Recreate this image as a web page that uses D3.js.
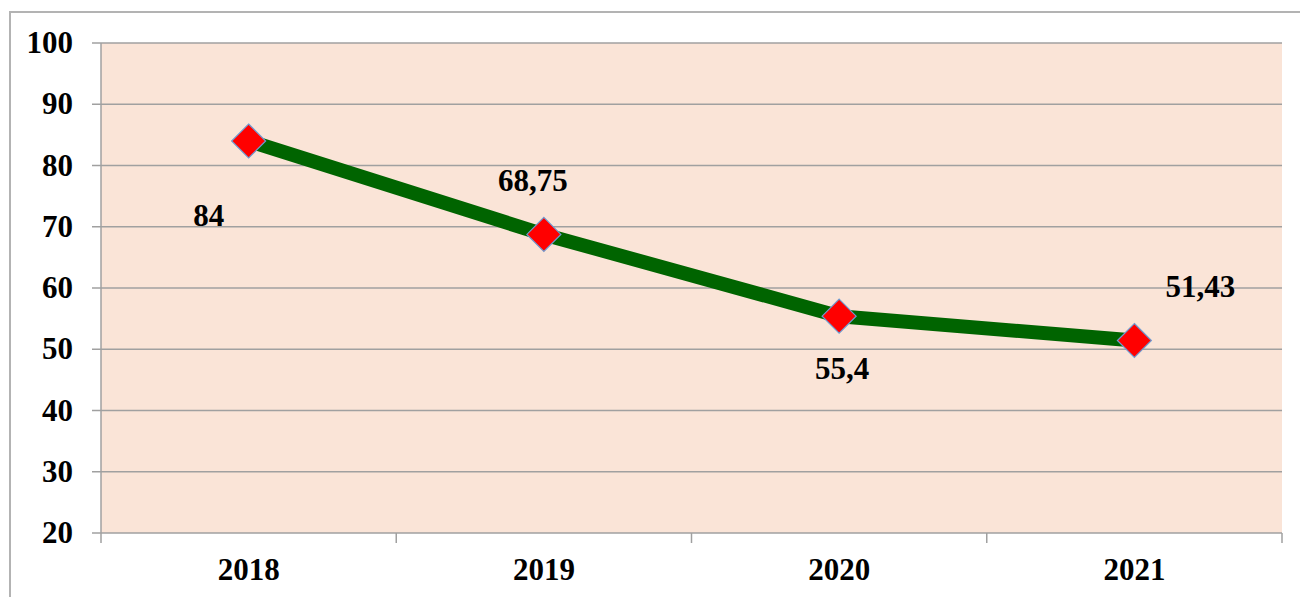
<!DOCTYPE html>
<html>
<head>
<meta charset="utf-8">
<script src="https://cdn.jsdelivr.net/npm/d3@7"></script>
<style>
  body { margin: 0; background: #ffffff; }
  svg { display: block; }
</style>
</head>
<body>
<div id="chart"></div>
<script>
// data
var years = ["2018", "2019", "2020", "2021"];
var values = [84, 68.75, 55.4, 51.43];
var valueLabels = ["84", "68,75", "55,4", "51,43"];
var yTicks = [20, 30, 40, 50, 60, 70, 80, 90, 100];

var w = 1300, h = 597;
var margin = { top: 43, right: 18, bottom: 64, left: 101 };
var width = w - margin.left - margin.right;
var height = h - margin.top - margin.bottom;

var root = d3.select("#chart").append("svg")
    .attr("width", w)
    .attr("height", h);

// outer chart frame
root.append("rect")
    .attr("x", 10).attr("y", 12)
    .attr("width", w + 10).attr("height", h + 10)
    .attr("fill", "none")
    .attr("stroke", "#b3b3b3")
    .attr("stroke-width", 2);

var svg = root.append("g")
    .attr("transform", `translate(${margin.left},${margin.top})`);

// --- Scales ---
var xScale = d3.scaleBand().domain(years).range([0, width]).padding(0);
var yScale = d3.scaleLinear().domain([20, 100]).range([height, 0]);

// plot background
svg.append("rect")
    .attr("width", width).attr("height", height)
    .attr("fill", "#fae4d7");

// gridlines
svg.append("g")
    .selectAll("line")
    .data(yTicks)
    .enter().append("line")
    .attr("x1", -9).attr("x2", width)
    .attr("y1", d => yScale(d)).attr("y2", d => yScale(d))
    .attr("stroke", "#a0a0a0")
    .attr("stroke-width", 1.5);

// y axis line
svg.append("line")
    .attr("x1", 0).attr("x2", 0)
    .attr("y1", 0).attr("y2", height)
    .attr("stroke", "#a0a0a0").attr("stroke-width", 1.5);

// x category boundary ticks
var bounds = years.map(d => xScale(d)).concat([width]);
svg.append("g")
    .selectAll("line")
    .data(bounds)
    .enter().append("line")
    .attr("x1", d => d).attr("x2", d => d)
    .attr("y1", height).attr("y2", height + 10)
    .attr("stroke", "#a0a0a0").attr("stroke-width", 1.5);

var font = "'Liberation Serif', 'Times New Roman', serif";

// y tick labels
svg.append("g")
    .selectAll("text")
    .data(yTicks)
    .enter().append("text")
    .attr("x", -28)
    .attr("y", d => yScale(d) + 10)
    .attr("text-anchor", "end")
    .style("font-family", font)
    .style("font-weight", "bold")
    .style("font-size", "31px")
    .text(d => d);

// x tick labels
svg.append("g")
    .selectAll("text")
    .data(years)
    .enter().append("text")
    .attr("x", d => xScale(d) + xScale.bandwidth() / 2)
    .attr("y", height + 47)
    .attr("text-anchor", "middle")
    .style("font-family", font)
    .style("font-weight", "bold")
    .style("font-size", "31px")
    .text(d => d);

// --- Line ---
var points = years.map((d, i) => ({ year: d, value: values[i], label: valueLabels[i] }));
var line = d3.line()
    .x(d => xScale(d.year) + xScale.bandwidth() / 2)
    .y(d => yScale(d.value));

svg.append("path")
    .datum(points)
    .attr("d", line)
    .attr("fill", "none")
    .attr("stroke", "#006400")
    .attr("stroke-width", 14)
    .attr("stroke-linejoin", "round");

// markers
svg.append("g")
    .selectAll("path")
    .data(points)
    .enter().append("path")
    .attr("transform", d => `translate(${xScale(d.year) + xScale.bandwidth() / 2},${yScale(d.value)})`)
    .attr("d", "M0,-17L17,0L0,17L-17,0Z")
    .attr("fill", "#ff0000")
    .attr("stroke", "#6f9bd1")
    .attr("stroke-width", 1.2);

// value labels (offsets as placed in the source chart)
var labelOffsets = [[-40, 85], [-11, -43], [3, 63], [66, -43]];
svg.append("g")
    .selectAll("text")
    .data(points)
    .enter().append("text")
    .attr("x", (d, i) => xScale(d.year) + xScale.bandwidth() / 2 + labelOffsets[i][0])
    .attr("y", (d, i) => yScale(d.value) + labelOffsets[i][1])
    .attr("text-anchor", "middle")
    .style("font-family", font)
    .style("font-weight", "bold")
    .style("font-size", "31px")
    .text(d => d.label);
</script>
</body>
</html>
